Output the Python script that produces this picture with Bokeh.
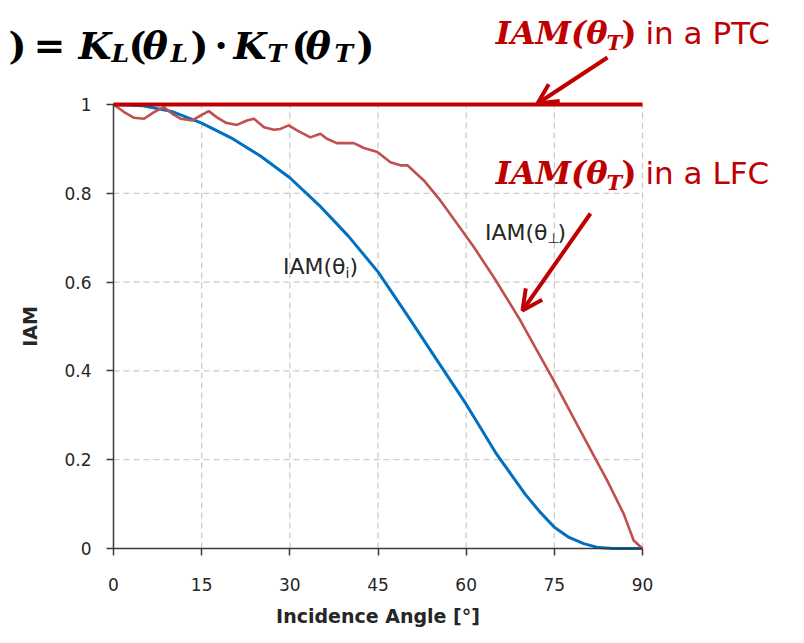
from bokeh.plotting import figure
from bokeh.models import FixedTicker, NumeralTickFormatter, Label, Arrow, OpenHead, Range1d
from bokeh.embed import file_html
from bokeh.resources import INLINE

# ---------------- data ----------------
x_ticks = [0, 15, 30, 45, 60, 75, 90]
y_ticks = [0, 0.2, 0.4, 0.6, 0.8, 1.0]

# IAM(theta_i) - blue
blue_angle = [0, 5, 10, 15, 20, 25, 30, 35, 40, 45, 50, 55, 60, 65, 70, 72.5, 75, 77.5, 80, 82.5, 85, 90]
blue_iam = [1.0, 0.997, 0.984, 0.958, 0.925, 0.884, 0.835, 0.773, 0.703, 0.623, 0.525, 0.425, 0.325,
            0.216, 0.123, 0.083, 0.048, 0.025, 0.011, 0.002, 0.0, 0.0]

# IAM(theta_perp) - red (LFC transversal)
red_angle = [0, 1.8, 3.5, 5.2, 6.9, 8.6, 10.0, 11.4, 13.4, 14.8, 16.2, 17.6, 19.1, 21.0, 22.7, 23.9,
             25.6, 27.3, 28.4, 29.8, 31.3, 33.5, 35.2, 36.3, 38.0, 40.9, 42.6, 44.9, 47.1, 48.8,
             50.0, 52.8, 55.6, 58.5, 61.3, 64.7, 69.2, 74.9, 79.4, 84.0, 86.8, 88.5, 90.0]
red_iam = [1.0, 0.983, 0.970, 0.968, 0.983, 0.994, 0.979, 0.968, 0.964, 0.975, 0.985, 0.971, 0.959,
           0.954, 0.964, 0.968, 0.949, 0.943, 0.945, 0.953, 0.941, 0.926, 0.934, 0.923, 0.913, 0.913,
           0.902, 0.893, 0.870, 0.863, 0.863, 0.829, 0.784, 0.731, 0.679, 0.611, 0.514, 0.378, 0.266,
           0.153, 0.078, 0.018, 0.0]

# IAM(theta_T) in a PTC - constant
ptc_angle = [0, 90]
ptc_iam = [1.0, 1.0]

# ---------------- geometry (reference pixels -> data) ----------------
XS = 529 / 90.0      # px per degree
YS = 444 / 1.0       # px per IAM unit


def dx(xr):
    return (xr - 113) / XS


def dy(yr):
    return (548 - yr) / YS


W, H = 788, 627
p = figure(width=W, height=H, x_range=Range1d(dx(0), dx(W)), y_range=Range1d(dy(H), dy(0)),
           output_backend="svg", toolbar_location=None,
           min_border_left=0, min_border_right=0, min_border_top=0, min_border_bottom=0)
p.title.visible = False
p.outline_line_color = None
p.background_fill_color = "white"
p.border_fill_color = "white"
p.xgrid.visible = False
p.ygrid.visible = False

AX = "#3a3a3a"
for ax in (p.xaxis, p.yaxis):
    ax.fixed_location = 0
    ax.axis_line_color = AX
    ax.axis_line_width = 1.5
    ax.major_tick_line_color = AX
    ax.major_tick_line_width = 1.5
    ax.major_tick_out = 7
    ax.major_tick_in = 0
    ax.minor_tick_line_color = None
    ax.major_label_text_font = "DejaVu Sans"
    ax.major_label_text_font_size = "17px"
    ax.major_label_text_color = "#262626"
    ax.axis_label_text_font = "DejaVu Sans"
    ax.axis_label_text_font_size = "19px"
    ax.axis_label_text_font_style = "bold"
    ax.axis_label_text_color = "#262626"

p.xaxis.ticker = FixedTicker(ticks=x_ticks)
p.xaxis.bounds = (0, 90)
p.xaxis.axis_label = "Incidence Angle [°]"
p.xaxis.major_label_standoff = 22
p.xaxis.axis_label_standoff = 11

p.yaxis.ticker = FixedTicker(ticks=y_ticks)
p.yaxis.bounds = (0, 1)
p.yaxis.formatter = NumeralTickFormatter(format="0.[0]")
p.yaxis.axis_label = "IAM"
p.yaxis.major_label_standoff = 15
p.yaxis.axis_label_standoff = 20

# dashed grid, drawn only inside the 0..90 x 0..1 box
GRID = dict(line_color="#cccccc", line_width=1.3, line_dash="6 4")
p.segment(x0=x_ticks[1:], y0=[y_ticks[0]] * (len(x_ticks) - 1), x1=x_ticks[1:],
          y1=[y_ticks[-1]] * (len(x_ticks) - 1), **GRID)
p.segment(x0=[x_ticks[0]] * (len(y_ticks) - 1), y0=y_ticks[1:], x1=[x_ticks[-1]] * (len(y_ticks) - 1),
          y1=y_ticks[1:], **GRID)

p.line(blue_angle, blue_iam, line_color="#0070c0", line_width=3)
p.line(red_angle, red_iam, line_color="#c0504d", line_width=2.6)
p.line(ptc_angle, ptc_iam, line_color="#c00000", line_width=4)


def lab(text, xr, yr, size, font="DejaVu Sans", style="normal", color="#262626", align="left"):
    p.add_layout(Label(x=dx(xr), y=dy(yr), text=text, text_font=font, text_font_size=f"{size}px",
                       text_font_style=style, text_color=color, text_align=align,
                       text_baseline="alphabetic"))


RED = "#c00000"
SERIF = "DejaVu Serif"
BI = "bold italic"
BLK = "#000000"

# top-left formula (cropped in the original slide)
lab(")", 8, 45, 38, SERIF, "bold", BLK)
lab("=", 33, 45, 38, SERIF, "bold", BLK)
lab("K", 78, 45, 38, SERIF, BI, BLK)
lab("L", 111, 53, 25, SERIF, BI, BLK)
lab("(", 128, 45, 38, SERIF, "bold", BLK)
lab("θ", 142, 45, 38, SERIF, BI, BLK)
lab("L", 170, 53, 25, SERIF, BI, BLK)
lab(")", 190, 45, 38, SERIF, "bold", BLK)
lab("·", 214, 45, 38, SERIF, "bold", BLK)
lab("K", 233, 45, 38, SERIF, BI, BLK)
lab("T", 267, 53, 25, SERIF, BI, BLK)
lab("(", 291, 45, 38, SERIF, "bold", BLK)
lab("θ", 305, 45, 38, SERIF, BI, BLK)
lab("T", 334, 53, 25, SERIF, BI, BLK)
lab(")", 356, 45, 38, SERIF, "bold", BLK)

# red labels
for base, word in ((32, "in a PTC"), (172, "in a LFC")):
    lab("IAM(θ", 607, base, 32, SERIF, BI, RED, "right")
    lab("T", 606, base + 10, 21, SERIF, BI, RED)
    lab(")", 621, base, 32, SERIF, "bold", RED)
    lab(word, 645, base, 31, "DejaVu Sans", "normal", RED)

# black curve labels
lab("IAM(θ", 345, 266, 22, align="right")
lab("i", 345, 272, 14)
lab(")", 349, 266, 22)
lab("IAM(θ", 547, 232, 22, align="right")
lab("⊥", 547, 237, 14)
lab(")", 557, 232, 22)

# arrows
p.add_layout(Arrow(end=OpenHead(line_color=RED, line_width=4, size=20),
                   x_start=dx(607), y_start=dy(57), x_end=dx(537), y_end=dy(103),
                   line_color=RED, line_width=4))
p.add_layout(Arrow(end=OpenHead(line_color=RED, line_width=4, size=20),
                   x_start=dx(590), y_start=dy(213), x_end=dx(522), y_end=dy(310),
                   line_color=RED, line_width=4))

open("out.html", "w").write(file_html(p, INLINE))
